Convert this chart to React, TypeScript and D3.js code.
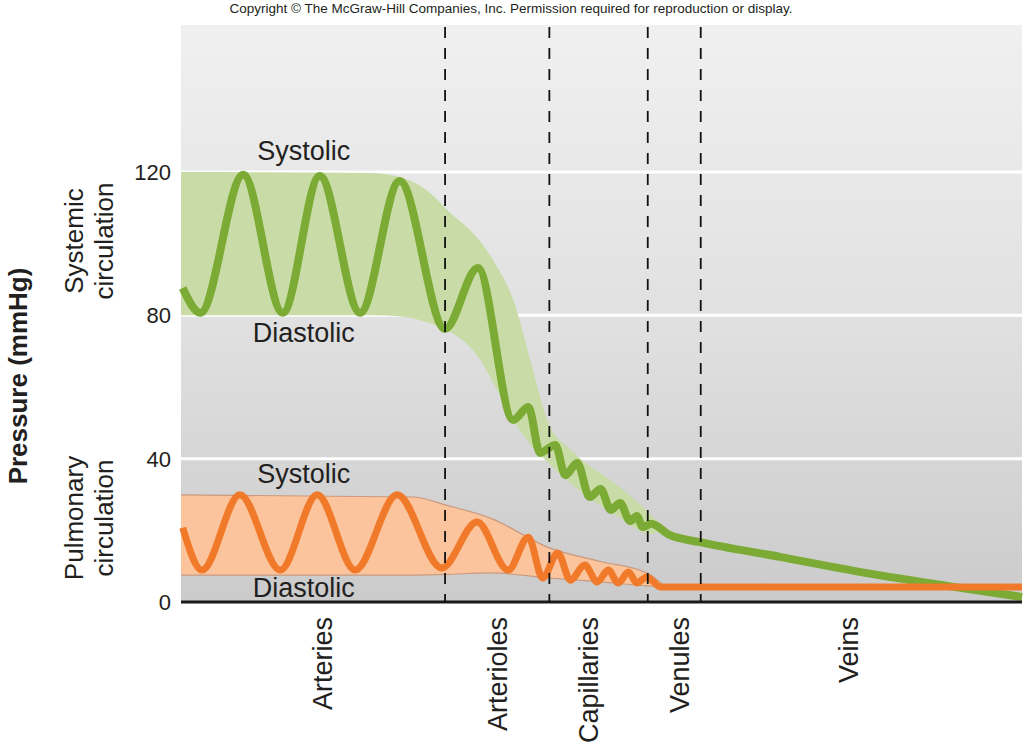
import React from 'react';
import * as d3 from 'd3';

const W = 1024;
const H = 747;

// y axis (mmHg)
const yTicks = [0, 40, 80, 120];
const yMax = 161;

// x axis: relative distance along the circulation (0–100)
const segments = ['Arteries', 'Arterioles', 'Capillaries', 'Venules', 'Veins'];
const segmentLabelPos = [16.8, 37.6, 48.4, 59.2, 79.3];
const boundaries = [31.4, 43.8, 55.5, 61.8];

// Systemic circulation pressure trace
const sysLineX = [0.2, 2.3, 7.4, 12.1, 16.5, 21.3, 26.0, 31.4, 35.3, 39.5, 41.3, 42.7, 44.5, 45.7, 47.1, 48.6, 49.9, 51.1, 52.2, 53.4, 54.2, 54.9, 55.9, 58.1, 61.7, 71.2, 80.7, 91.1, 100];
const sysLineP = [87.6, 80.7, 119.2, 80.7, 118.9, 80.7, 117.5, 76.2, 93.2, 50.8, 54.4, 41.6, 43.8, 35.4, 38.8, 29.3, 31.5, 25.7, 27.6, 22.6, 24.0, 20.9, 21.8, 18.7, 16.7, 12.6, 8.4, 4.5, 1.4];

// Systemic systolic / diastolic envelope
const sysBandX = [0, 22.5, 26.0, 29.6, 31.6, 35.6, 37.6, 39.5, 41.7, 43.6, 46.6, 52.2, 55.8, 57.4];
const sysBandHi = [120, 119.7, 118.6, 114.2, 109.5, 100.5, 93.5, 84.4, 66.0, 50.5, 42.0, 32.0, 24.5, 20.5];
const sysBandLo = [80, 80, 79.7, 77.8, 75.9, 67.5, 59.0, 51.0, 43.3, 39.0, 32.6, 23.5, 19.0, 20.5];

// Pulmonary circulation pressure trace
const pulLineX = [0.2, 2.5, 7.0, 11.8, 16.2, 20.7, 25.7, 31.0, 35.2, 38.9, 41.3, 43.0, 44.8, 46.3, 48.0, 49.5, 50.8, 52.0, 53.2, 54.2, 55.4, 57.0, 100];
const pulLineP = [20.7, 8.9, 29.9, 8.9, 29.9, 8.9, 29.9, 9.5, 22.3, 8.9, 18.1, 6.7, 13.7, 6.1, 10.3, 5.6, 8.9, 5.3, 8.4, 5.3, 7.0, 4.2, 4.2];

// Pulmonary systolic / diastolic envelope
const pulBandX = [0, 27.6, 31.4, 36.8, 43.8, 49.9, 55.4, 57.6];
const pulBandHi = [29.9, 29.3, 27.1, 23.4, 15.1, 11.3, 8.1, 4.2];
const pulBandLo = [7.5, 7.5, 7.7, 8.1, 6.7, 5.6, 4.5, 4.2];

// Annotations
const annoText = ['Systolic', 'Diastolic', 'Systolic', 'Diastolic'];
const annoX = [14.6, 14.6, 14.6, 14.6];
const annoP = [123.3, 72.6, 33.2, 1.4];

const FONT = '"Liberation Sans", Arial, Helvetica, sans-serif';
const TEXT = '#231f20';

export default function App() {
  const x = d3.scaleLinear().domain([0, 100]).range([181, 1022]);
  const y = d3.scaleLinear().domain([0, yMax]).range([602, 25]);

  const mkLine = (xs: number[], ps: number[]) =>
    d3
      .line<number>()
      .x((d) => x(xs[d]))
      .y((d) => y(ps[d]))
      .curve(d3.curveMonotoneX)(xs.map((_, i) => i)) || '';

  const mkArea = (xs: number[], hi: number[], lo: number[]) =>
    d3
      .area<number>()
      .x((d) => x(xs[d]))
      .y0((d) => y(lo[d]))
      .y1((d) => y(hi[d]))
      .curve(d3.curveMonotoneX)(xs.map((_, i) => i)) || '';

  return (
    <div style={{ position: 'absolute', left: 0, top: 0 }}>
      <svg width={W} height={H} style={{ display: 'block', background: '#ffffff' }}>
        <defs>
          <linearGradient id="bg" x1="0" y1="0" x2="0" y2="1">
            <stop offset="0%" stopColor="#f0f0f0" />
            <stop offset="50%" stopColor="#e1e1e2" />
            <stop offset="100%" stopColor="#cbcbcc" />
          </linearGradient>
        </defs>

        <text x={511} y={13} textAnchor="middle" fontFamily={FONT} fontSize={13.5} fill={TEXT}>
          Copyright © The McGraw-Hill Companies, Inc. Permission required for reproduction or display.
        </text>

        {/* plot background */}
        <rect x={x(0)} y={y(yMax)} width={x(100) - x(0)} height={y(0) - y(yMax)} fill="url(#bg)" />

        {/* gridlines */}
        {yTicks
          .filter((t) => t > 0)
          .map((t) => (
            <line key={t} x1={x(0)} x2={x(100)} y1={y(t)} y2={y(t)} stroke="#ffffff" strokeWidth={3} />
          ))}

        {/* bands */}
        <path d={mkArea(sysBandX, sysBandHi, sysBandLo)} fill="#c9dca7" />
        <path d={mkArea(pulBandX, pulBandHi, pulBandLo)} fill="#fbc49c" />
        <path d={mkLine(pulBandX, pulBandHi)} fill="none" stroke="#c99a80" strokeWidth={1.2} />
        <path d={mkLine(pulBandX, pulBandLo)} fill="none" stroke="#c99a80" strokeWidth={1.2} />

        {/* pressure traces */}
        <path d={mkLine(sysLineX, sysLineP)} fill="none" stroke="#7bab34" strokeWidth={8} strokeLinecap="butt" strokeLinejoin="round" />
        <path d={mkLine(pulLineX, pulLineP)} fill="none" stroke="#f07a2a" strokeWidth={7} strokeLinecap="butt" strokeLinejoin="round" />

        {/* baseline axis */}
        <line x1={x(0)} x2={x(100)} y1={y(0)} y2={y(0)} stroke="#1a1a1a" strokeWidth={3} />

        {/* boundaries */}
        {boundaries.map((b) => (
          <line key={b} x1={x(b)} x2={x(b)} y1={y(yMax) + 2} y2={y(0)} stroke="#111" strokeWidth={1.8} strokeDasharray="11 10" />
        ))}

        {/* y tick labels */}
        {yTicks.map((t) => (
          <text key={t} x={171} y={y(t)} dy="0.36em" textAnchor="end" fontFamily={FONT} fontSize={22} fill={TEXT}>
            {t}
          </text>
        ))}

        {/* annotations */}
        {annoText.map((t, i) => (
          <text key={i} x={x(annoX[i])} y={y(annoP[i])} textAnchor="middle" fontFamily={FONT} fontSize={27} fill={TEXT}>
            {t}
          </text>
        ))}

        {/* segment labels */}
        {segments.map((s, i) => (
          <text
            key={s}
            transform={`translate(${x(segmentLabelPos[i]) + 10},617) rotate(-90)`}
            textAnchor="end"
            fontFamily={FONT}
            fontSize={27}
            fill={TEXT}
          >
            {s}
          </text>
        ))}

        {/* left labels */}
        <text transform="translate(27,376) rotate(-90)" textAnchor="middle" fontFamily={FONT} fontSize={26} fontWeight="bold" fill={TEXT}>
          Pressure (mmHg)
        </text>
        <text transform="translate(83,241) rotate(-90)" textAnchor="middle" fontFamily={FONT} fontSize={26} fill={TEXT}>
          Systemic
        </text>
        <text transform="translate(113,241) rotate(-90)" textAnchor="middle" fontFamily={FONT} fontSize={26} fill={TEXT}>
          circulation
        </text>
        <text transform="translate(83,518) rotate(-90)" textAnchor="middle" fontFamily={FONT} fontSize={26} fill={TEXT}>
          Pulmonary
        </text>
        <text transform="translate(113,518) rotate(-90)" textAnchor="middle" fontFamily={FONT} fontSize={26} fill={TEXT}>
          circulation
        </text>
      </svg>
    </div>
  );
}
